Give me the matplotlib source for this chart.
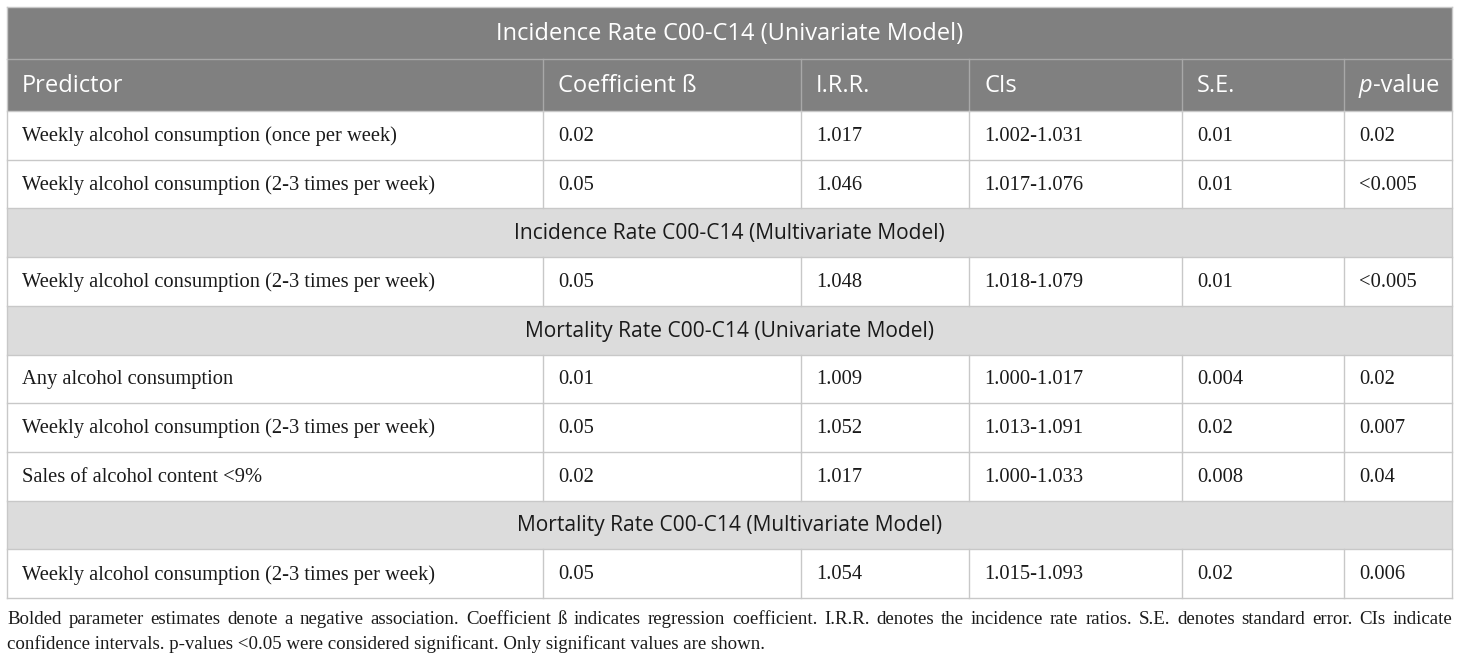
import matplotlib
matplotlib.use("Agg")
import matplotlib.pyplot as plt
from matplotlib.patches import Rectangle

# ---- data ----
table_title = "Incidence Rate C00-C14 (Univariate Model)"
columns = ["Predictor", "Coefficient ß", "I.R.R.", "CIs", "S.E.", "p-value"]
section_titles = [
    None,
    None,
    "Incidence Rate C00-C14 (Multivariate Model)",
    None,
    "Mortality Rate C00-C14 (Univariate Model)",
    None,
    None,
    None,
    "Mortality Rate C00-C14 (Multivariate Model)",
    None,
]
predictors = [
    "Weekly alcohol consumption (once per week)",
    "Weekly alcohol consumption (2-3 times per week)",
    None,
    "Weekly alcohol consumption (2-3 times per week)",
    None,
    "Any alcohol consumption",
    "Weekly alcohol consumption (2-3 times per week)",
    "Sales of alcohol content <9%",
    None,
    "Weekly alcohol consumption (2-3 times per week)",
]
coefficients = ["0.02", "0.05", None, "0.05", None, "0.01", "0.05", "0.02", None, "0.05"]
irr = ["1.017", "1.046", None, "1.048", None, "1.009", "1.052", "1.017", None, "1.054"]
cis = ["1.002-1.031", "1.017-1.076", None, "1.018-1.079", None,
       "1.000-1.017", "1.013-1.091", "1.000-1.033", None, "1.015-1.093"]
se = ["0.01", "0.01", None, "0.01", None, "0.004", "0.02", "0.008", None, "0.02"]
pvalues = ["0.02", "<0.005", None, "<0.005", None, "0.02", "0.007", "0.04", None, "0.006"]
footnote_line1 = ("Bolded parameter estimates denote a negative association. Coefficient ß indicates "
                  "regression coefficient. I.R.R. denotes the incidence rate ratios. S.E. denotes "
                  "standard error. CIs indicate")
footnote_line2 = ("confidence intervals. p-values <0.05 were considered significant. "
                  "Only significant values are shown.")

# ---- layout ----
W, H = 1460, 661
col_edges = [7, 543, 801, 969, 1182, 1344, 1452]
title_top, title_bot = 7, 59
head_bot = 111
table_bot = 598
n_rows = len(predictors)
row_h = (table_bot - head_bot) / n_rows

DARK = "#808080"
LIGHT = "#dcdcdc"
GRID = "#c8c8c8"
HEAD_LINE = "#a8a8a8"
SANS = "Open Sans"
SERIF = "Liberation Serif"
FS_SANS = 17
FS_SECTION = 15.1
FS_BODY = 14.8
FS_NOTE = 13.6
pad = 15

fig = plt.figure(figsize=(W / 100, H / 100), dpi=100)
ax = fig.add_axes([0, 0, 1, 1])
ax.set_xlim(0, W)
ax.set_ylim(H, 0)
ax.axis("off")

L, R = col_edges[0], col_edges[-1]
# title row
ax.add_patch(Rectangle((L, title_top), R - L, title_bot - title_top, facecolor=DARK, edgecolor="none"))
ax.text((L + R) / 2, (title_top + title_bot) / 2 + 1, table_title, family=SANS, fontsize=FS_SANS,
        color="white", ha="center", va="center")
# header row
ax.add_patch(Rectangle((L, title_bot), R - L, head_bot - title_bot, facecolor=DARK, edgecolor="none"))
ax.plot([L, R], [title_bot, title_bot], color=HEAD_LINE, lw=1)
ymid_h = (title_bot + head_bot) / 2 + 1
fig.canvas.draw()
renderer = fig.canvas.get_renderer()
for i, c in enumerate(columns):
    x = col_edges[i] + pad
    if c == "p-value":
        t = ax.text(x, ymid_h, "p", family=SANS, style="italic", fontsize=FS_SANS, color="white",
                    ha="left", va="center")
        bb = t.get_window_extent(renderer)
        ax.text(x + bb.width + 0.5, ymid_h, "-value", family=SANS, fontsize=FS_SANS, color="white",
                ha="left", va="center")
    else:
        ax.text(x, ymid_h, c, family=SANS, fontsize=FS_SANS, color="white", ha="left", va="center")
for xe in col_edges[1:-1]:
    ax.plot([xe, xe], [title_bot, head_bot], color=HEAD_LINE, lw=1)

# body rows
for r in range(n_rows):
    y0 = head_bot + r * row_h
    y1 = y0 + row_h
    ym = (y0 + y1) / 2 + 1
    if section_titles[r] is not None:
        ax.add_patch(Rectangle((L, y0), R - L, row_h, facecolor=LIGHT, edgecolor="none"))
        ax.text((L + R) / 2, ym, section_titles[r], family=SANS, fontsize=FS_SECTION, color="#1a1a1a",
                ha="center", va="center")
    else:
        vals = [predictors[r], coefficients[r], irr[r], cis[r], se[r], pvalues[r]]
        for i, v in enumerate(vals):
            ax.text(col_edges[i] + pad, ym, v, family=SERIF, fontsize=FS_BODY, color="#1a1a1a",
                    ha="left", va="center")
        for xe in col_edges[1:-1]:
            ax.plot([xe, xe], [y0, y1], color=GRID, lw=1)
    ax.plot([L, R], [y0, y0], color=GRID, lw=1)
ax.plot([L, R], [table_bot, table_bot], color=GRID, lw=1)
ax.plot([L, L], [title_top, table_bot], color=GRID, lw=1)
ax.plot([R, R], [title_top, table_bot], color=GRID, lw=1)
ax.plot([L, R], [title_top, title_top], color=GRID, lw=1)

# footnote: justified first line
words = footnote_line1.split(" ")
y_note1, y_note2 = 620, 644
widths = []
tmp = []
for w in words:
    t = ax.text(0, y_note1, w, family=SERIF, fontsize=FS_NOTE, color="#1a1a1a", ha="left", va="center")
    tmp.append(t)
    widths.append(t.get_window_extent(renderer).width)
total = sum(widths)
gap = (R - L - total) / (len(words) - 1)
x = L
for t, wd in zip(tmp, widths):
    t.set_x(x)
    x += wd + gap
ax.text(L, y_note2, footnote_line2, family=SERIF, fontsize=FS_NOTE, color="#1a1a1a",
        ha="left", va="center")

fig.savefig("out.png", dpi=100)
